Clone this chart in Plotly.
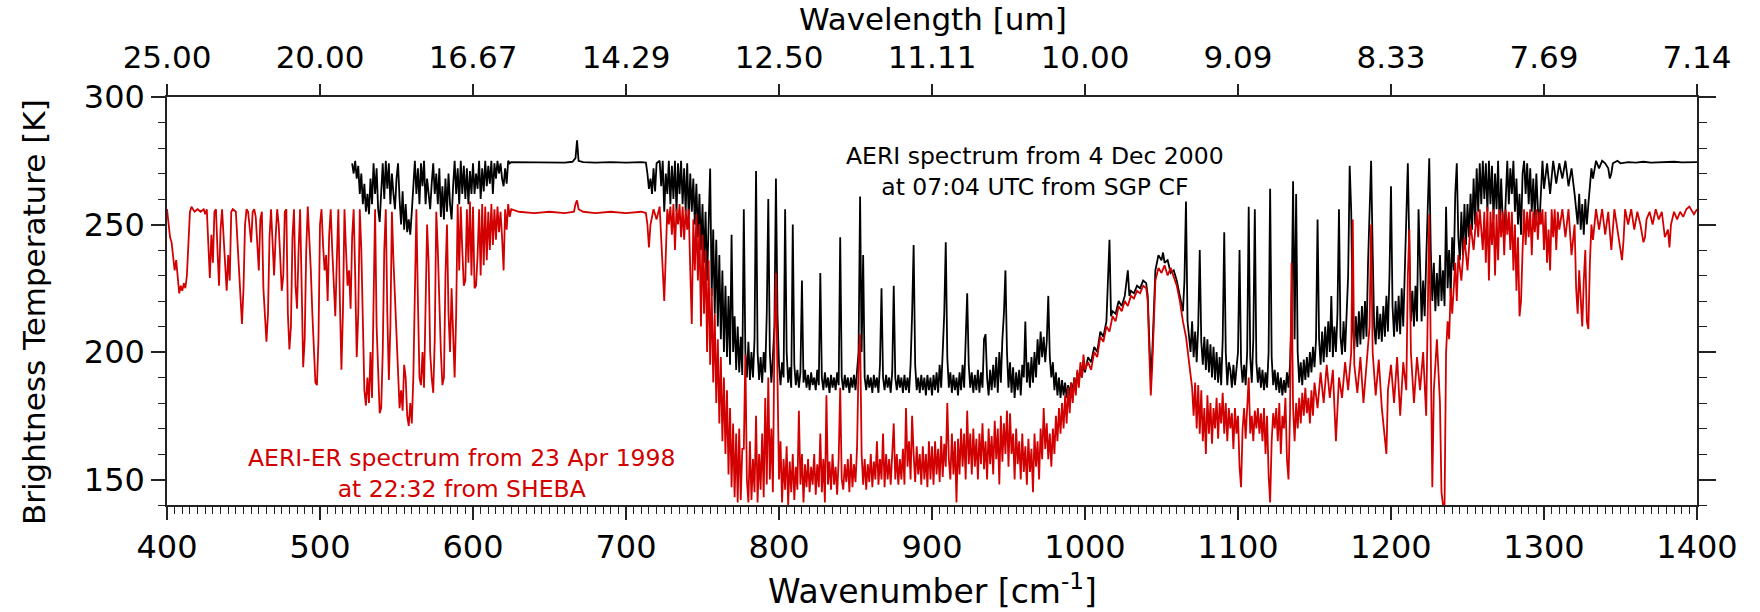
import plotly.graph_objects as go

# ---------------------------------------------------------------------------
# AERI-ER spectrum, SHEBA, 23 Apr 1998 22:32  -> (wavenumber [cm-1], Tb [K])
# ---------------------------------------------------------------------------
sheba_far_ir = [
    (400, 256), (401, 250), (402, 245), (403, 243), (404, 238), (405, 232), (406, 236), (407, 228),
    (408, 223), (409, 226), (410, 224), (411, 227), (412, 225), (413, 230), (414, 241), (415, 255),
    (416, 257), (418, 255), (420, 256), (422, 255), (424, 256), (425, 254), (426, 256), (427, 240),
    (428, 229), (429, 246), (430, 235), (431, 255), (432, 256), (433, 240), (434, 226), (435, 248),
    (436, 256), (437, 245), (438, 232), (439, 224), (440, 238), (441, 228), (442, 255), (443, 256),
    (445, 255), (446, 242), (447, 235), (448, 222), (449, 211), (450, 225), (451, 250), (452, 256),
    (453, 255), (454, 248), (455, 243), (456, 255), (457, 256), (458, 253), (459, 240), (460, 232),
    (461, 252), (462, 255), (463, 225), (464, 212), (465, 204), (466, 215), (467, 245), (468, 256),
    (469, 240), (470, 230), (471, 245), (472, 256), (473, 250), (474, 236), (475, 224), (476, 230),
    (477, 255), (478, 256), (479, 215), (480, 201), (481, 210), (482, 245), (483, 256), (484, 226),
    (485, 217), (486, 240), (487, 256), (488, 226), (489, 194), (490, 205), (491, 240), (492, 257),
    (493, 245), (494, 232), (495, 215), (496, 203), (497, 188), (498, 187), (499, 205), (500, 250),
    (501, 256), (502, 242), (503, 232), (504, 238), (505, 220), (506, 246), (507, 256), (508, 240),
    (509, 228), (510, 214), (511, 236), (512, 256), (513, 220), (514, 193), (515, 216), (516, 256),
    (517, 240), (518, 226), (519, 232), (520, 217), (521, 245), (522, 256), (523, 230), (524, 198),
    (525, 215), (526, 256), (527, 240), (528, 205), (529, 185), (530, 179), (531, 190), (532, 180),
    (533, 200), (534, 182), (535, 230), (536, 256), (537, 210), (538, 195), (539, 176), (540, 178),
    (541, 200), (542, 240), (543, 256), (544, 215), (545, 189), (546, 210), (547, 255), (548, 236),
    (549, 220), (550, 205), (551, 190), (552, 178), (553, 185), (554, 177), (555, 195), (556, 190),
    (557, 175), (558, 171), (559, 180), (560, 172), (561, 190), (562, 230), (563, 256), (564, 220),
    (565, 190), (566, 187), (567, 200), (568, 186), (569, 215), (570, 250), (571, 235), (572, 200),
    (573, 190), (574, 184), (575, 205), (576, 255), (577, 240), (578, 215), (579, 200), (580, 187),
    (581, 190), (582, 230), (583, 250), (584, 215), (585, 200), (586, 225), (587, 205), (588, 190),
    (589, 215), (590, 258), (591, 232), (592, 257), (593, 240), (594, 226), (595, 228), (596, 256),
    (597, 235), (598, 259), (599, 230), (600, 257), (601, 225), (602, 226), (603, 238), (604, 256),
    (605, 230), (606, 258), (607, 234), (608, 257), (609, 236), (610, 255), (611, 240), (612, 258),
    (613, 242), (614, 256), (615, 244), (616, 257), (617, 247), (618, 255), (619, 245), (620, 232),
    (621, 256), (622, 248), (623, 258), (624, 253), (625, 256),
]
sheba_co2_band = [
    (630, 255), (640, 254.5), (650, 255), (660, 254.5), (666, 255), (667, 258), (668, 259.5),
    (669, 256), (672, 255), (680, 254.5), (690, 255), (700, 254.5), (710, 255), (713, 254.5),
    (714, 250), (715, 241), (716, 250), (718, 256), (720, 252), (722, 257), (723, 245), (724, 232),
    (725, 220), (726, 238), (727, 256), (728, 250), (729, 257), (730, 246), (731, 258), (732, 240),
    (733, 256), (734, 250), (735, 258), (736, 245), (737, 257), (738, 244), (739, 256), (740, 248),
    (741, 256), (742, 232), (743, 211), (744, 252), (745, 232), (746, 254), (747, 228), (748, 250),
    (749, 210), (750, 246), (751, 215), (752, 240), (753, 200), (754, 236), (755, 195), (756, 225),
    (757, 188), (758, 215), (759, 180), (760, 205), (761, 172), (762, 198), (763, 165), (764, 190),
    (765, 160), (766, 185), (767, 152), (768, 178), (769, 147), (770, 172), (771, 143), (772, 168),
    (773, 141), (774, 170), (775, 142), (776, 162),
]
sheba_window = [
    (777, 162), (778, 199), (779, 150), (780, 141), (781, 165), (782, 142), (783, 158), (784, 145),
    (785, 175), (786, 141), (787, 160), (788, 146), (789, 168), (790, 143), (791, 182), (792, 148),
    (793, 190), (794, 150), (795, 170), (796, 145), (797, 205), (798, 231), (799, 180), (800, 150),
    (801, 165), (802, 141), (803, 158), (804, 146), (805, 163), (806, 140), (807, 157), (808, 145),
    (809, 160), (810, 142), (811, 155), (812, 146), (813, 177), (814, 148), (815, 160), (816, 141),
    (817, 156), (818, 147), (819, 158), (820, 145), (821, 155), (822, 148), (823, 160), (824, 144),
    (825, 156), (826, 147), (827, 168), (828, 145), (829, 158), (830, 141), (831, 183), (832, 148),
    (833, 157), (834, 146), (835, 160), (836, 148), (837, 155), (838, 144), (839, 158), (840, 186),
    (841, 150), (842, 146), (843, 156), (844, 149), (845, 158), (846, 145), (847, 160), (848, 147),
    (849, 156), (850, 149), (851, 162), (852, 195), (853, 207), (854, 160), (855, 148), (856, 158),
    (857, 146), (858, 156), (859, 149), (860, 160), (861, 147), (862, 157), (863, 150), (864, 165),
    (865, 148), (866, 158), (867, 150), (868, 168), (869, 147), (870, 160), (871, 150), (872, 158),
    (873, 148), (874, 162), (875, 172), (876, 150), (877, 160), (878, 148), (879, 158), (880, 150),
    (881, 162), (882, 148), (883, 178), (884, 155), (885, 165), (886, 150), (887, 175), (888, 160),
    (889, 149), (890, 163), (891, 152), (892, 160), (893, 148), (894, 163), (895, 150), (896, 160),
    (897, 147), (898, 165), (899, 150), (900, 163), (901, 148), (902, 165), (903, 152), (904, 162),
    (905, 149), (906, 167), (907, 151), (908, 164), (909, 155), (910, 180), (911, 158), (912, 150),
    (913, 168), (914, 152), (915, 165), (916, 141), (917, 166), (918, 152), (919, 170), (920, 155),
    (921, 168), (922, 150), (923, 177), (924, 156), (925, 168), (926, 152), (927, 170), (928, 155),
    (929, 166), (930, 150), (931, 168), (932, 156), (933, 172), (934, 154), (935, 165), (936, 150),
    (937, 170), (938, 156), (939, 167), (940, 152), (941, 173), (942, 158), (943, 170), (944, 148),
    (945, 175), (946, 157), (947, 172), (948, 160), (949, 177), (950, 155), (951, 176), (952, 160),
    (953, 168), (954, 150), (955, 170), (956, 156), (957, 165), (958, 150), (959, 168), (960, 153),
    (961, 163), (962, 148), (963, 166), (964, 153), (965, 162), (966, 145), (967, 168), (968, 155),
    (969, 165), (970, 150), (971, 170), (972, 158), (973, 178), (974, 162), (975, 172), (976, 158),
    (977, 168), (978, 155), (979, 170), (980, 160), (981, 175), (982, 165), (983, 178), (984, 168),
    (985, 180), (986, 170), (987, 183), (988, 172), (989, 186), (990, 176), (991, 188), (992, 180),
    (993, 190), (994, 183), (995, 193), (996, 186), (997, 196), (998, 190), (999, 199), (1000, 193),
]
sheba_ozone_band = [
    (1002, 196), (1004, 193), (1006, 200), (1008, 198), (1010, 206), (1012, 204), (1014, 210),
    (1016, 208), (1018, 214), (1020, 212), (1022, 218), (1024, 216), (1026, 220), (1028, 218),
    (1030, 222), (1032, 221), (1034, 224), (1036, 223), (1038, 226), (1040, 225), (1041, 220),
    (1042, 200), (1043, 183), (1044, 195), (1045, 215), (1046, 228), (1048, 233), (1050, 231),
    (1052, 234), (1054, 230), (1056, 233), (1058, 229), (1060, 226), (1062, 220), (1064, 212),
    (1066, 206), (1068, 196), (1070, 186),
]
sheba_window_2 = [
    (1071, 175), (1072, 188), (1073, 170), (1074, 187), (1075, 168), (1076, 185), (1077, 165),
    (1078, 178), (1079, 160), (1080, 183), (1081, 168), (1082, 180), (1083, 164), (1084, 178),
    (1085, 170), (1086, 182), (1087, 166), (1088, 180), (1089, 172), (1090, 184), (1091, 168),
    (1092, 180), (1093, 165), (1094, 178), (1095, 170), (1096, 176), (1097, 162), (1098, 178),
    (1099, 168), (1100, 175), (1101, 155), (1102, 147), (1103, 170), (1104, 178), (1105, 166),
    (1106, 176), (1107, 190), (1108, 168), (1109, 175), (1110, 165), (1111, 177), (1112, 170),
    (1113, 178), (1114, 168), (1115, 176), (1116, 165), (1117, 178), (1118, 160), (1119, 175),
    (1120, 152), (1121, 141), (1122, 165), (1123, 176), (1124, 170), (1125, 178), (1126, 165),
    (1127, 180), (1128, 160), (1129, 175), (1130, 170), (1131, 182), (1132, 158), (1133, 150),
    (1134, 176), (1135, 235), (1136, 178), (1137, 165), (1138, 180), (1139, 170), (1140, 182),
    (1141, 172), (1142, 184), (1143, 175), (1144, 186), (1145, 176), (1146, 182), (1147, 172),
    (1148, 185), (1149, 175), (1150, 188), (1152, 178), (1154, 192), (1156, 180), (1158, 195),
    (1160, 182), (1162, 193), (1164, 165), (1166, 190), (1168, 182), (1170, 196), (1172, 185),
    (1174, 200), (1175, 252), (1176, 195), (1178, 184), (1180, 198), (1182, 180), (1184, 195),
    (1186, 210), (1187, 250), (1188, 200), (1190, 183), (1192, 197), (1194, 178), (1196, 165),
    (1197, 160), (1198, 185), (1200, 195), (1202, 180), (1204, 198), (1206, 175), (1208, 196),
    (1210, 185), (1211, 230), (1212, 248), (1213, 200), (1215, 180), (1217, 198), (1219, 185),
    (1221, 200), (1223, 175), (1225, 254), (1226, 200), (1227, 147), (1228, 185), (1230, 205),
    (1232, 180), (1233, 145), (1234, 140), (1235, 140),
]
sheba_water_band = [
    (1236, 200), (1237, 212), (1238, 205), (1239, 225), (1240, 215), (1242, 235), (1243, 220),
    (1244, 238), (1246, 228), (1248, 245), (1250, 232), (1252, 250), (1254, 240), (1256, 255),
    (1257, 245), (1258, 256), (1260, 240), (1261, 255), (1262, 235), (1263, 257), (1264, 228),
    (1265, 255), (1266, 242), (1267, 256), (1268, 230), (1269, 254), (1270, 236), (1271, 256),
    (1272, 245), (1273, 255), (1274, 238), (1275, 256), (1276, 246), (1277, 255), (1278, 240),
    (1279, 255), (1280, 232), (1281, 250), (1282, 224), (1283, 245), (1284, 214), (1285, 220),
    (1286, 240), (1287, 256), (1288, 242), (1289, 255), (1290, 245), (1291, 256), (1292, 238),
    (1293, 255), (1294, 247), (1295, 256), (1296, 244), (1297, 255), (1298, 250), (1299, 256),
    (1300, 240), (1301, 255), (1302, 235), (1303, 248), (1304, 232), (1305, 256), (1306, 245),
    (1307, 256), (1308, 240), (1309, 255), (1310, 248), (1312, 256), (1314, 245), (1316, 256),
    (1318, 238), (1320, 250), (1321, 225), (1322, 215), (1323, 232), (1324, 218), (1325, 210),
    (1326, 228), (1327, 240), (1328, 212), (1329, 209), (1330, 235), (1331, 250), (1332, 244),
    (1334, 256), (1336, 248), (1338, 256), (1340, 246), (1342, 255), (1344, 240), (1346, 256),
    (1348, 248), (1350, 240), (1351, 236), (1352, 244), (1353, 256), (1355, 250), (1357, 256),
    (1359, 248), (1361, 255), (1363, 250), (1365, 243), (1366, 245), (1367, 252), (1369, 255),
    (1371, 250), (1373, 256), (1375, 252), (1377, 255), (1379, 245), (1381, 248), (1382, 241),
    (1383, 250), (1385, 255), (1387, 252), (1389, 255), (1391, 253), (1393, 256), (1395, 257),
    (1397, 255), (1398, 254), (1400, 256),
]

# ---------------------------------------------------------------------------
# AERI spectrum, SGP Central Facility, 4 Dec 2000 07:04 UTC
# ---------------------------------------------------------------------------
sgp_far_ir = [
    (521, 274), (522, 270), (523, 275), (524, 268), (525, 273), (526, 262), (527, 270), (528, 258),
    (529, 266), (530, 255), (531, 262), (532, 254), (533, 268), (534, 258), (535, 274), (536, 262),
    (537, 272), (538, 256), (539, 251), (540, 266), (541, 274), (542, 260), (543, 275), (544, 264),
    (545, 274), (546, 258), (547, 270), (548, 262), (549, 256), (550, 268), (551, 274), (552, 260),
    (553, 250), (554, 263), (555, 248), (556, 258), (557, 247), (558, 252), (559, 246), (560, 255),
    (561, 268), (562, 275), (563, 262), (564, 272), (565, 258), (566, 274), (567, 265), (568, 275),
    (569, 258), (570, 268), (571, 262), (572, 256), (573, 266), (574, 274), (575, 262), (576, 270),
    (577, 258), (578, 272), (579, 253), (580, 265), (581, 252), (582, 268), (583, 255), (584, 270),
    (585, 258), (586, 252), (587, 265), (588, 275), (589, 262), (590, 272), (591, 258), (592, 275),
    (593, 262), (594, 273), (595, 260), (596, 272), (597, 258), (598, 271), (599, 262), (600, 274),
    (601, 262), (602, 270), (603, 264), (604, 275), (605, 260), (606, 272), (607, 263), (608, 275),
    (609, 265), (610, 273), (611, 266), (612, 275), (613, 262), (614, 274), (615, 268), (616, 275),
    (617, 270), (618, 274), (619, 268), (620, 265), (621, 272), (622, 266), (623, 275), (624, 274),
    (625, 274.5),
]
sgp_co2_band = [
    (630, 274.5), (640, 274.3), (650, 274.5), (660, 274.3), (665, 274.6), (667, 276), (668, 283),
    (669, 275), (672, 274.5), (680, 274.3), (690, 274.5), (700, 274.3), (710, 274.5), (713, 274.3),
    (714, 270), (715, 264), (716, 268), (717, 262), (718, 272), (719, 263), (720, 274), (722, 275),
    (723, 265), (724, 275), (725, 255), (726, 270), (727, 262), (728, 275), (729, 258), (730, 273),
    (731, 260), (732, 275), (733, 255), (734, 274), (735, 262), (736, 275), (737, 258), (738, 272),
    (739, 255), (740, 274), (741, 252), (742, 270), (743, 255), (744, 268), (745, 250), (746, 266),
    (747, 245), (748, 262), (749, 240), (750, 258), (751, 235), (752, 255), (753, 228), (754, 252),
    (755, 272), (756, 222), (757, 248), (758, 215), (759, 244), (760, 210), (761, 238), (762, 205),
    (763, 232), (764, 200), (765, 226), (766, 198), (767, 222), (768, 195), (769, 246), (770, 200),
    (771, 214), (772, 193), (773, 210), (774, 192), (775, 206), (776, 191), (777, 256), (778, 200),
    (779, 190), (780, 204), (781, 189), (782, 200), (783, 190), (784, 205), (785, 271), (786, 200),
    (787, 189),
]
sgp_window = [
    (788, 198), (789, 188), (790, 200), (791, 192), (792, 215), (793, 260), (794, 200), (795, 188),
    (796, 198), (797, 210), (798, 268), (799, 215), (800, 195), (801, 187), (802, 196), (803, 190),
    (804, 256), (805, 200), (806, 188), (807, 194), (808, 186), (809, 250), (810, 195), (811, 187),
    (812, 193), (813, 186), (814, 192), (815, 228), (816, 188), (817, 193), (818, 186), (819, 191),
    (820, 185), (821, 192), (822, 187), (823, 190), (824, 185), (825, 193), (826, 187), (827, 231),
    (828, 190), (829, 185), (830, 192), (831, 186), (832, 190), (833, 184), (834, 191), (835, 186),
    (836, 190), (837, 185), (838, 192), (839, 187), (840, 245), (841, 190), (842, 185), (843, 191),
    (844, 186), (845, 190), (846, 184), (847, 190), (848, 186), (849, 191), (850, 185), (851, 192),
    (852, 200), (853, 261), (854, 200), (855, 238), (856, 190), (857, 185), (858, 191), (859, 186),
    (860, 190), (861, 184), (862, 191), (863, 186), (864, 190), (865, 184), (866, 195), (867, 225),
    (868, 190), (869, 185), (870, 191), (871, 186), (872, 190), (873, 184), (874, 192), (875, 226),
    (876, 190), (877, 185), (878, 191), (879, 186), (880, 190), (881, 184), (882, 191), (883, 185),
    (884, 190), (885, 184), (886, 195), (887, 215), (888, 242), (889, 195), (890, 185), (891, 190),
    (892, 184), (893, 191), (894, 185), (895, 190), (896, 183), (897, 191), (898, 185), (899, 190),
    (900, 183), (901, 191), (902, 185), (903, 192), (904, 184), (905, 195), (906, 186), (907, 200),
    (908, 215), (909, 243), (910, 198), (911, 186), (912, 192), (913, 184), (914, 191), (915, 185),
    (916, 190), (917, 183), (918, 192), (919, 185), (920, 195), (921, 186), (922, 205), (923, 223),
    (924, 195), (925, 186), (926, 192), (927, 184), (928, 191), (929, 185), (930, 193), (931, 184),
    (932, 192), (933, 186), (934, 205), (935, 207), (936, 190), (937, 183), (938, 193), (939, 185),
    (940, 195), (941, 186), (942, 198), (943, 184), (944, 200), (945, 188), (946, 205), (947, 215),
    (948, 232), (949, 200), (950, 186), (951, 196), (952, 184), (953, 194), (954, 182), (955, 192),
    (956, 185), (957, 193), (958, 183), (959, 195), (960, 190), (961, 212), (962, 188), (963, 196),
    (964, 186), (965, 198), (966, 188), (967, 200), (968, 190), (969, 205), (970, 195), (971, 208),
    (972, 198), (973, 206), (974, 196), (975, 204), (976, 222), (977, 198), (978, 190), (979, 196),
    (980, 185), (981, 192), (982, 183), (983, 190), (984, 182), (985, 189), (986, 183), (987, 188),
    (988, 182), (989, 187), (990, 183), (991, 188), (992, 184), (993, 190), (994, 186), (995, 192),
    (996, 188), (997, 194), (998, 190), (999, 196), (1000, 192),
]
sgp_ozone_band = [
    (1002, 198), (1004, 196), (1006, 202), (1008, 200), (1010, 208), (1012, 206), (1014, 212),
    (1016, 244), (1017, 214), (1018, 216), (1020, 215), (1022, 220), (1024, 218), (1026, 222),
    (1028, 232), (1029, 222), (1030, 224), (1032, 223), (1034, 226), (1036, 225), (1038, 228),
    (1040, 227), (1041, 222), (1042, 205), (1043, 190), (1044, 200), (1045, 218), (1046, 232),
    (1048, 238), (1050, 236), (1051, 239), (1052, 235), (1054, 236), (1056, 231), (1058, 232),
    (1060, 228), (1062, 222), (1064, 216), (1065, 228), (1066, 259), (1067, 212), (1068, 206),
    (1069, 200),
]
sgp_window_2 = [
    (1070, 212), (1071, 198), (1072, 208), (1073, 196), (1074, 210), (1075, 240), (1076, 204),
    (1077, 195), (1078, 206), (1079, 193), (1080, 205), (1081, 192), (1082, 203), (1083, 190),
    (1084, 202), (1085, 189), (1086, 200), (1087, 188), (1088, 198), (1089, 187), (1090, 205),
    (1091, 247), (1092, 200), (1093, 187), (1094, 196), (1095, 193), (1096, 186), (1097, 195),
    (1098, 187), (1099, 194), (1100, 200), (1101, 240), (1102, 196), (1103, 188), (1104, 195),
    (1105, 187), (1106, 200), (1107, 257), (1108, 198), (1109, 188), (1110, 205), (1111, 256),
    (1112, 196), (1113, 188), (1114, 194), (1115, 186), (1116, 193), (1117, 185), (1118, 192),
    (1119, 186), (1120, 200), (1121, 264), (1122, 198), (1123, 187), (1124, 193), (1125, 185),
    (1126, 192), (1127, 184), (1128, 190), (1129, 183), (1130, 189), (1131, 184), (1132, 192),
    (1133, 186), (1134, 195), (1135, 215), (1136, 267), (1137, 205), (1138, 262), (1139, 200),
    (1140, 188), (1141, 196), (1142, 187), (1143, 197), (1144, 189), (1145, 198), (1146, 190),
    (1147, 200), (1148, 192), (1149, 202), (1150, 194), (1151, 205), (1152, 252), (1153, 205),
    (1154, 195), (1155, 208), (1156, 196), (1157, 210), (1158, 198), (1159, 212), (1160, 200),
    (1161, 222), (1162, 198), (1163, 210), (1164, 200), (1165, 215), (1166, 256), (1167, 206),
    (1168, 199), (1169, 212), (1170, 200), (1171, 215), (1172, 230), (1173, 273), (1174, 255),
    (1175, 210), (1176, 201), (1177, 214), (1178, 202), (1179, 216), (1180, 203), (1181, 218),
    (1182, 205), (1183, 220), (1184, 206), (1185, 235), (1186, 260), (1187, 275), (1188, 240),
    (1189, 210), (1190, 203), (1191, 218), (1192, 205), (1193, 215), (1194, 204), (1195, 218),
    (1196, 206), (1197, 222), (1198, 208), (1199, 230), (1200, 265), (1201, 218), (1202, 206),
    (1203, 220), (1204, 208), (1205, 222), (1206, 207), (1207, 225), (1208, 210), (1209, 235),
    (1210, 258), (1211, 274), (1212, 240), (1213, 212), (1214, 224), (1215, 210), (1216, 226),
    (1217, 212), (1218, 256), (1219, 230), (1220, 212), (1221, 228), (1222, 214), (1223, 236),
    (1224, 262), (1225, 276), (1226, 240), (1227, 220), (1228, 235), (1229, 216), (1230, 231),
    (1231, 218), (1232, 238), (1233, 220), (1234, 232), (1235, 218),
]
sgp_water_band = [
    (1236, 257), (1237, 225), (1238, 240), (1239, 222), (1240, 245), (1241, 232), (1242, 262),
    (1243, 274), (1244, 245), (1245, 236), (1246, 255), (1247, 238), (1248, 258), (1249, 242),
    (1250, 258), (1251, 245), (1252, 262), (1253, 248), (1254, 268), (1255, 250), (1256, 272),
    (1257, 255), (1258, 274), (1259, 258), (1260, 275), (1261, 260), (1262, 274), (1263, 255),
    (1264, 275), (1265, 258), (1266, 273), (1267, 252), (1268, 270), (1269, 256), (1270, 275),
    (1271, 248), (1272, 268), (1273, 252), (1274, 245), (1275, 262), (1276, 275), (1277, 258),
    (1278, 272), (1279, 262), (1280, 275), (1281, 255), (1282, 268), (1283, 250), (1284, 262),
    (1285, 246), (1286, 270), (1287, 275), (1288, 262), (1289, 274), (1290, 258), (1291, 272),
    (1292, 255), (1293, 268), (1294, 252), (1295, 270), (1296, 256), (1297, 250), (1298, 265),
    (1299, 275), (1300, 264), (1302, 274), (1304, 262), (1306, 275), (1308, 266), (1310, 274),
    (1312, 268), (1314, 275), (1316, 265), (1318, 272), (1320, 262), (1321, 255), (1322, 250),
    (1323, 262), (1324, 248), (1325, 258), (1326, 246), (1327, 260), (1328, 250), (1329, 258),
    (1330, 264), (1331, 272), (1332, 268), (1334, 275), (1336, 272), (1338, 275), (1340, 274),
    (1342, 272), (1343, 268), (1344, 270), (1345, 274), (1348, 275), (1350, 274), (1355, 274.5),
    (1360, 274.3), (1365, 274.6), (1370, 274.3), (1375, 274.5), (1380, 274.4), (1385, 274.6),
    (1390, 274.4), (1395, 274.5), (1400, 274.5),
]

# Axis ticks
WAVENUMBER_TICKS = [400, 500, 600, 700, 800, 900, 1000, 1100, 1200, 1300, 1400]
WAVELENGTH_LABELS = ["25.00", "20.00", "16.67", "14.29", "12.50", "11.11",
                     "10.00", "9.09", "8.33", "7.69", "7.14"]
TB_TICKS = [150, 200, 250, 300]

SHEBA_SEGMENTS = [sheba_far_ir, sheba_co2_band, sheba_window,
                  sheba_ozone_band, sheba_window_2, sheba_water_band]
SGP_SEGMENTS = [sgp_far_ir, sgp_co2_band, sgp_window,
                sgp_ozone_band, sgp_window_2, sgp_water_band]


def unpack(segments):
    pts = [p for seg in segments for p in seg]
    return [p[0] for p in pts], [p[1] for p in pts]


sgp_wn, sgp_tb = unpack(SGP_SEGMENTS)
sheba_wn, sheba_tb = unpack(SHEBA_SEGMENTS)

RED = "#d20000"
AXIS = "#222222"
FONT = "DejaVu Sans"

fig = go.Figure()
fig.add_trace(go.Scatter(x=sgp_wn, y=sgp_tb, mode="lines",
                         line=dict(color="#000000", width=1.8), hoverinfo="skip"))
fig.add_trace(go.Scatter(x=sheba_wn, y=sheba_tb, mode="lines",
                         line=dict(color=RED, width=1.8), hoverinfo="skip"))
# Same spectrum bound to the wavelength (top) and right-hand axes so that they render
fig.add_trace(go.Scatter(x=sgp_wn, y=sgp_tb, mode="lines", xaxis="x2", yaxis="y2",
                         line=dict(color="rgba(0,0,0,0)", width=0), opacity=0,
                         hoverinfo="skip"))

W0, W1, T0, T1 = 400, 1400, 140, 300
L, R, TOP, B = 167, 63, 97, 107
PW, PH = 1760 - L - R, 612 - TOP - B


def px(xp):
    return (xp - L) / PW


def py(yp):
    return (612 - B - yp) / PH


fig.update_layout(
    width=1760, height=612,
    margin=dict(l=L, r=R, t=TOP, b=B),
    paper_bgcolor="white", plot_bgcolor="white",
    showlegend=False,
    font=dict(family=FONT, size=32, color="black"),
    xaxis=dict(
        range=[W0, W1], tickmode="array", tickvals=WAVENUMBER_TICKS,
        ticks="outside", ticklen=13, tickwidth=1.5, tickcolor=AXIS,
        showline=True, linecolor=AXIS, linewidth=1.5,
        showgrid=False, zeroline=False,
        tickfont=dict(family=FONT, size=32, color="black"),
        minor=dict(dtick=5, tick0=400, ticks="outside", ticklen=7,
                   tickwidth=1.2, tickcolor=AXIS, showgrid=False),
    ),
    xaxis2=dict(
        overlaying="x", side="top", anchor="y2",
        range=[W0, W1], tickmode="array", tickvals=WAVENUMBER_TICKS,
        ticktext=WAVELENGTH_LABELS, ticklabelstandoff=4,
        ticks="outside", ticklen=11, tickwidth=1.5, tickcolor=AXIS,
        showline=True, linecolor=AXIS, linewidth=1.5,
        showgrid=False, zeroline=False,
        tickfont=dict(family=FONT, size=31, color="black"),
    ),
    yaxis=dict(
        range=[T0, T1], tickmode="array", tickvals=TB_TICKS,
        ticks="outside", ticklen=14, tickwidth=1.5, tickcolor=AXIS,
        showline=True, linecolor=AXIS, linewidth=1.5,
        showgrid=False, zeroline=False,
        tickfont=dict(family=FONT, size=32, color="black"),
        minor=dict(dtick=10, tick0=140, ticks="outside", ticklen=7,
                   tickwidth=1.2, tickcolor=AXIS, showgrid=False),
    ),
    yaxis2=dict(
        overlaying="y", side="right", anchor="x2",
        range=[T0, T1], tickmode="array", tickvals=TB_TICKS,
        showticklabels=False,
        ticks="outside", ticklen=17, tickwidth=1.5, tickcolor=AXIS,
        showline=True, linecolor=AXIS, linewidth=1.5,
        showgrid=False, zeroline=False,
        minor=dict(dtick=10, tick0=140, ticks="outside", ticklen=8,
                   tickwidth=1.2, tickcolor=AXIS, showgrid=False),
    ),
)

annotations = [
    dict(text="Wavelength [um]", x=px(933), y=py(19), size=31, color="black", angle=0),
    dict(text="Wavenumber [cm<sup>-1</sup>]", x=px(932), y=py(589), size=33, color="black", angle=0),
    dict(text="Brightness Temperature [K]", x=px(34), y=py(312), size=31, color="black", angle=-90),
    dict(text="AERI spectrum from 4 Dec 2000<br>at 07:04 UTC from SGP CF",
         x=px(1035), y=py(171), size=23.5, color="black", angle=0),
    dict(text="AERI-ER spectrum from 23 Apr 1998<br>at 22:32 from SHEBA",
         x=px(461), y=py(473), size=23.5, color=RED, angle=0),
]
for a in annotations:
    fig.add_annotation(
        text=a["text"], x=a["x"], y=a["y"], xref="paper", yref="paper",
        xanchor="center", yanchor="middle", showarrow=False, textangle=a["angle"],
        font=dict(family=FONT, size=a["size"], color=a["color"]),
    )

fig.write_html("out.html")
